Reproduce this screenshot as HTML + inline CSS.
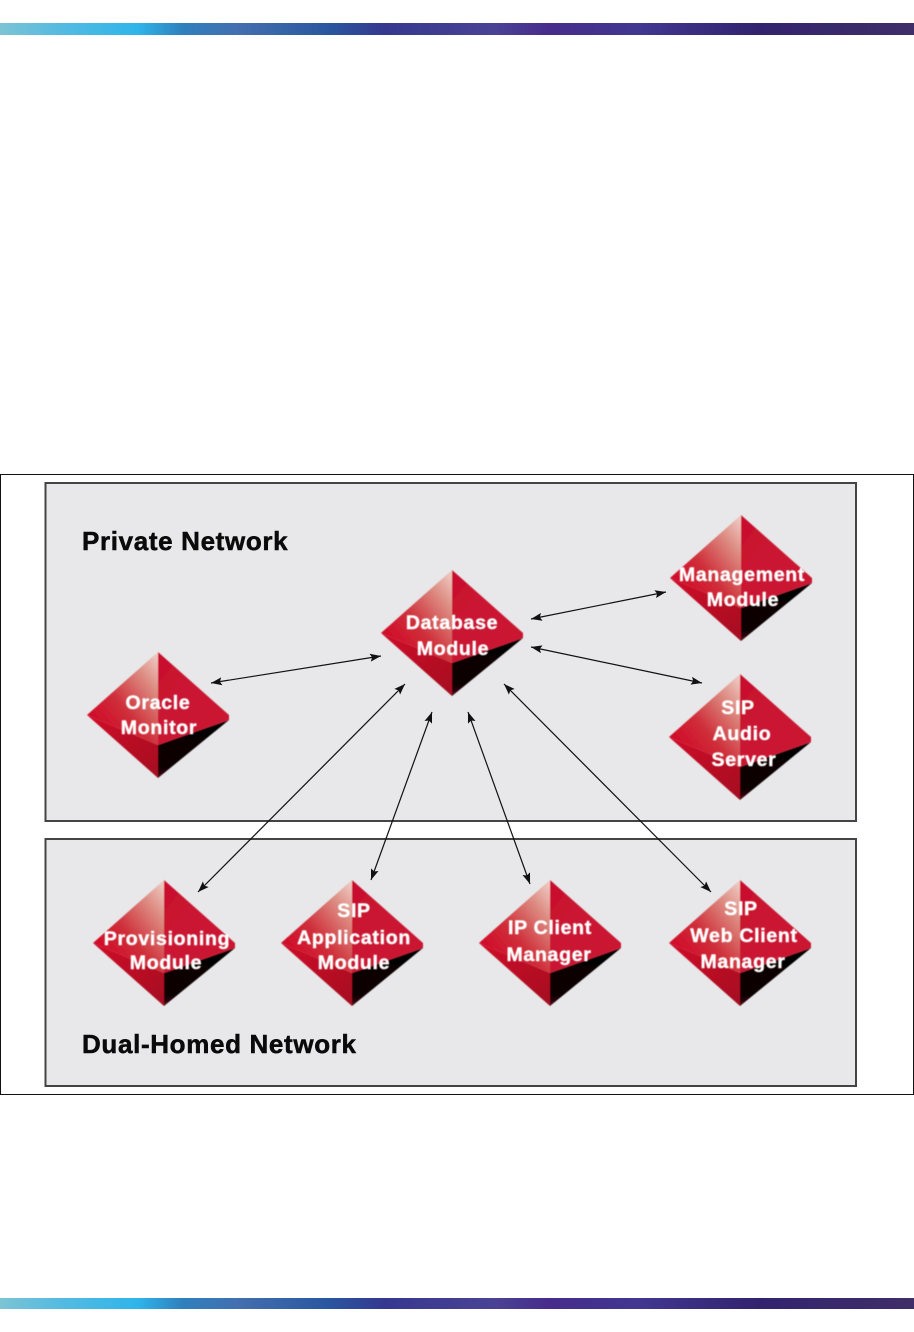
<!DOCTYPE html>
<html><head><meta charset="utf-8"><style>
html,body{margin:0;padding:0;background:#fff}
body{width:914px;height:1332px;overflow:hidden}
svg{display:block}
.l{font:bold 19.5px "Liberation Sans",sans-serif;fill:#fff;text-anchor:middle;letter-spacing:.7px;paint-order:stroke;stroke:#f4e4e0;stroke-width:.5px}
.h{font:bold 26px "Liberation Sans",sans-serif;fill:#0a0a0a;letter-spacing:.65px;stroke:#0a0a0a;stroke-width:.5px}
.a{stroke:#111;stroke-width:1.2;fill:none;marker-start:url(#m);marker-end:url(#m)}
</style></head><body>
<svg width="914" height="1332" viewBox="0 0 914 1332" xmlns="http://www.w3.org/2000/svg">
<defs>
<filter id="b" x="-5%" y="-5%" width="110%" height="110%"><feGaussianBlur stdDeviation="0.5"/></filter>
<linearGradient id="bar" x1="0" x2="1" y1="0" y2="0">
<stop offset="0" stop-color="#7cc4d4"/><stop offset=".06" stop-color="#58bbe0"/><stop offset=".15" stop-color="#2fb5ea"/><stop offset=".2" stop-color="#2f80bd"/><stop offset=".26" stop-color="#436fb0"/><stop offset=".36" stop-color="#2a569f"/><stop offset=".42" stop-color="#35388f"/><stop offset=".54" stop-color="#4a4394"/><stop offset=".6" stop-color="#472c8c"/><stop offset=".7" stop-color="#413790"/><stop offset=".83" stop-color="#33236f"/><stop offset="1" stop-color="#3f2e68"/>
</linearGradient>
<linearGradient id="tl" x1="1" y1="0" x2="0.25" y2="0.8">
<stop offset="0" stop-color="#f0d0ca"/><stop offset=".3" stop-color="#dd8c82"/><stop offset=".7" stop-color="#cf2f3a"/><stop offset="1" stop-color="#d0102a"/>
</linearGradient>
<linearGradient id="tr" x1="0" y1="0" x2="1" y2="1">
<stop offset="0" stop-color="#c8102e"/><stop offset="1" stop-color="#cc1a34"/>
</linearGradient>
<linearGradient id="bl" x1="0" y1="0" x2="1" y2="1">
<stop offset="0" stop-color="#d0102a"/><stop offset="1" stop-color="#a50f20"/>
</linearGradient>
<linearGradient id="br" x1="0" y1="0" x2="0" y2="1">
<stop offset="0" stop-color="#060102"/><stop offset=".8" stop-color="#080203"/><stop offset="1" stop-color="#4a0a12"/>
</linearGradient>
<g id="d">
<polygon points="0,0 -71,63 0,93" fill="url(#tl)"/>
<polygon points="0,0 71,63 71,68 0,93" fill="url(#tr)"/>
<polygon points="-71,63 0,93 0,126" fill="url(#bl)"/>
<polygon points="71,68 0,93 0,126" fill="url(#br)"/>
</g>
<marker id="m" viewBox="0 0 11 8" refX="11" refY="4" markerWidth="11" markerHeight="8" orient="auto-start-reverse" markerUnits="userSpaceOnUse"><path d="M11,4 L0,0 L2,4 L0,8 Z" fill="#111"/></marker>
</defs>
<rect x="0" y="23" width="914" height="12" fill="url(#bar)"/>
<rect x="0" y="1298" width="914" height="11" fill="url(#bar)"/>
<rect x=".5" y="474.5" width="913" height="620" fill="#fff" stroke="#111"/>
<rect x="45.5" y="483" width="810.5" height="338" fill="#e8e8ea" stroke="#444" stroke-width="2"/>
<rect x="45.5" y="839" width="810.5" height="247" fill="#e8e8ea" stroke="#444" stroke-width="2"/>
<text class="h" x="82" y="550">Private Network</text>
<text class="h" x="82" y="1053">Dual-Homed Network</text>
<g filter="url(#b)">
<use href="#d" x="452" y="570"/>
<use href="#d" x="741" y="515"/>
<use href="#d" x="158" y="652"/>
<use href="#d" x="740" y="674"/>
<use href="#d" x="164" y="880"/>
<use href="#d" x="352" y="880"/>
<use href="#d" x="550" y="880"/>
<use href="#d" x="740" y="880"/>
</g>
<line class="a" x1="211" y1="683" x2="381" y2="656"/>
<line class="a" x1="531" y1="619" x2="666" y2="592"/>
<line class="a" x1="531" y1="647" x2="702" y2="683"/>
<line class="a" x1="405" y1="684" x2="198" y2="892"/>
<line class="a" x1="432" y1="712" x2="371" y2="880"/>
<line class="a" x1="468" y1="712" x2="530" y2="884"/>
<line class="a" x1="504" y1="684" x2="711" y2="892"/>
<g filter="url(#b)">
<text class="l" x="452" y="629">Database</text><text class="l" x="453" y="655">Module</text>
<text class="l" x="742" y="581">Management</text><text class="l" x="743" y="606">Module</text>
<text class="l" x="158" y="709">Oracle</text><text class="l" x="159" y="734">Monitor</text>
<text class="l" x="738" y="714">SIP</text><text class="l" x="742" y="740">Audio</text><text class="l" x="744" y="766">Server</text>
<text class="l" x="167" y="945">Provisioning</text><text class="l" x="166" y="969">Module</text>
<text class="l" x="354" y="917">SIP</text><text class="l" x="354" y="944">Application</text><text class="l" x="354" y="969">Module</text>
<text class="l" x="550" y="934">IP Client</text><text class="l" x="549" y="961">Manager</text>
<text class="l" x="741" y="915">SIP</text><text class="l" x="744" y="942">Web Client</text><text class="l" x="743" y="968">Manager</text>
</g>
</svg>
</body></html>
